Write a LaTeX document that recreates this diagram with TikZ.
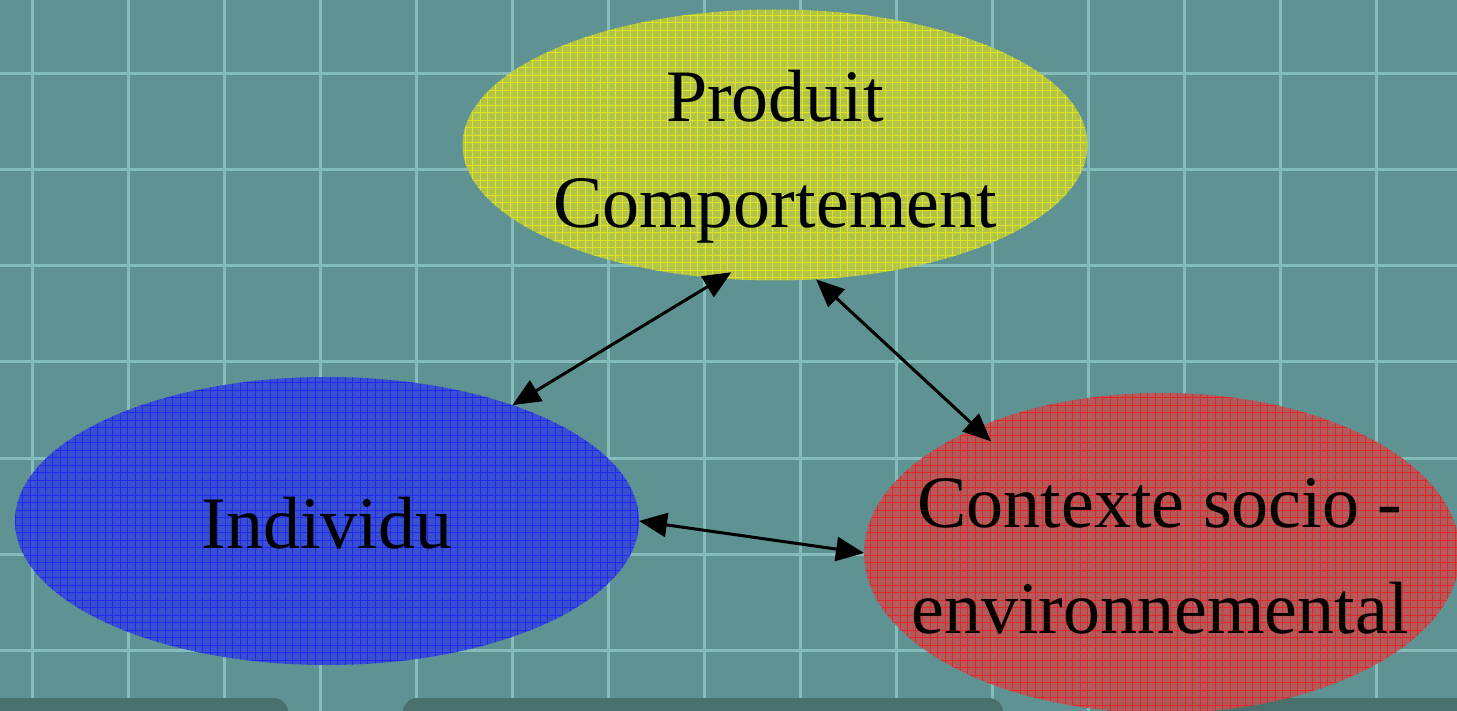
\documentclass[tikz,border=0pt]{standalone}
\usepackage{fontspec}
\setmainfont{Liberation Serif}
\usepackage{tikz}
\usetikzlibrary{arrows.meta,shapes.geometric}
\usepackage{xcolor}

\definecolor{slate}{RGB}{95,146,146}
\definecolor{gridcol}{RGB}{132,188,188}
\definecolor{tabcol}{RGB}{74,112,109}
\definecolor{prodfill}{RGB}{186,202,66}
\definecolor{prodline}{RGB}{240,240,20}
\definecolor{indfill}{RGB}{52,72,214}
\definecolor{indline}{RGB}{28,28,250}
\definecolor{ctxfill}{RGB}{186,86,88}
\definecolor{ctxline}{RGB}{238,24,24}

\tikzset{
  blob/.style={ellipse,inner sep=0pt,outer sep=0pt,fill opacity=0.9},
  hatch/.style={line width=0.8pt,step=7.5pt,opacity=0.75},
  bigtext/.style={align=center,font=\fontsize{74}{106}\selectfont},
  link/.style={line width=3pt,{Triangle[length=28pt,width=24pt]}-{Triangle[length=28pt,width=24pt]}},
  tabbox/.style={fill=tabcol,rounded corners=14pt}
}

\begin{document}
\begin{tikzpicture}[x=1pt,y=-1pt]
\useasboundingbox (0,0) rectangle (1457,711);
\clip (0,0) rectangle (1457,711);
\fill[slate] (0,0) rectangle (1457,711);
\foreach \x in {32,128,...,1400} \draw[gridcol,line width=3pt] (\x,0) -- (\x,711);
\foreach \y in {74,170,...,700} \draw[gridcol,line width=3pt] (0,\y) -- (1457,\y);
% tabs along the bottom
\fill[tabbox] (-30,698) rectangle (288,760);
\fill[tabbox] (403,698) rectangle (1003,760);
\fill[tabbox] (1107,698) rectangle (1500,760);

% the three ellipses
\node[blob,fill=prodfill,minimum width=625pt,minimum height=271pt] (prod) at (775,145) {};
\node[blob,fill=indfill,minimum width=624pt,minimum height=288pt] (indiv) at (327,521) {};
\node[blob,fill=ctxfill,minimum width=596pt,minimum height=320pt] (ctx) at (1162,553) {};

\begin{scope}
\clip (prod.center) ellipse [x radius=312.5pt,y radius=135.5pt];
\draw[hatch,prodline] (prod.west |- prod.north) grid (prod.east |- prod.south);
\end{scope}
\begin{scope}
\clip (indiv.center) ellipse [x radius=312pt,y radius=144pt];
\draw[hatch,indline] (indiv.west |- indiv.north) grid (indiv.east |- indiv.south);
\end{scope}
\begin{scope}
\clip (ctx.center) ellipse [x radius=298pt,y radius=160pt];
\draw[hatch,ctxline] (ctx.west |- ctx.north) grid (ctx.east |- ctx.south);
\end{scope}

\node[bigtext] (prodtxt) at (775,157) {Produit\\Comportement};
\node[bigtext] (indtxt) at (327,523) {Individu};
\node[bigtext] (ctxtxt) at (1160,556) {Contexte socio -\\environnemental};

% arrows
\draw[link,shorten >=-12pt] (indiv.32) -- (prod.248);
\draw[link,shorten >=-20pt] (prod.287) -- (ctx.146);
\draw[link] (indiv.east) -- (ctx.west);
\end{tikzpicture}
\end{document}
